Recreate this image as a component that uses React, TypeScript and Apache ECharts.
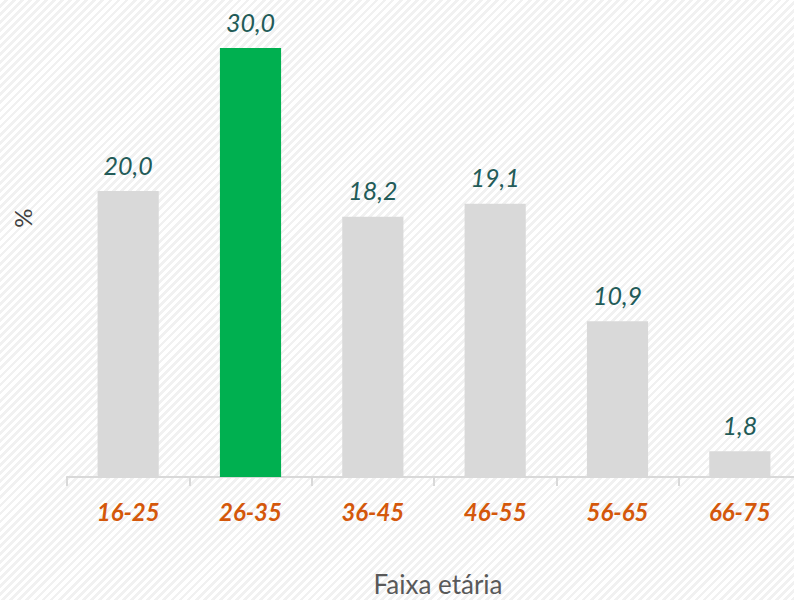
import React, { useEffect, useRef } from "react";
import * as echarts from "echarts";

const categories = ["16-25", "26-35", "36-45", "46-55", "56-65", "66-75"];
const values = [20.0, 30.0, 18.2, 19.1, 10.9, 1.8];
const highlightIndex = 1;
const xTitle = "Faixa etária";
const yTitle = "%";

const FONT = "Lato, 'Open Sans', sans-serif";

export default function App() {
  const ref = useRef<HTMLDivElement>(null);
  useEffect(() => {
    if (!ref.current) return;
    const chart = echarts.init(ref.current, undefined, { renderer: "svg" });
    chart.setOption({
      animation: false,
      grid: {
        left: 67,
        right: -7,
        top: 48,
        bottom: 123,
        containLabel: false,
        outerBoundsMode: "none",
      },
      xAxis: {
        type: "category",
        data: categories,
        axisLine: { lineStyle: { color: "#d9d9d9", width: 2 } },
        axisTick: { show: true, length: 9, lineStyle: { color: "#d9d9d9", width: 2 } },
        axisLabel: {
          color: "#d4580b",
          fontSize: 24,
          fontWeight: "bold",
          fontStyle: "italic",
          fontFamily: FONT,
          margin: 22,
        },
      },
      yAxis: {
        type: "value",
        min: 0,
        max: 30,
        axisLine: { show: false },
        axisTick: { show: false },
        axisLabel: { show: false },
        splitLine: { show: false },
      },
      graphic: [
        {
          type: "text",
          x: 438,
          y: 584,
          style: {
            text: xTitle,
            fill: "#595959",
            fontSize: 26,
            fontFamily: FONT,
            align: "center",
            verticalAlign: "middle",
          },
        },
        {
          type: "text",
          x: 22,
          y: 218,
          rotation: Math.PI / 2,
          style: {
            text: yTitle,
            fill: "#404040",
            fontSize: 24,
            fontFamily: FONT,
            align: "center",
            verticalAlign: "middle",
          },
        },
      ],
      series: [
        {
          type: "bar",
          barWidth: "50%",
          data: values.map((v, i) => ({
            value: v,
            itemStyle: { color: i === highlightIndex ? "#00b050" : "#d9d9d9" },
          })),
          label: {
            show: true,
            position: "top",
            distance: 14,
            formatter: (p: any) => p.value.toFixed(1).replace(".", ","),
            color: "#225b58",
            fontSize: 25,
            fontStyle: "italic",
            fontFamily: FONT,
          },
        },
      ],
    });
    return () => chart.dispose();
  }, []);
  return (
    <div
      ref={ref}
      style={{
        position: "fixed",
        left: 0,
        top: 0,
        width: 794,
        height: 600,
        background:
          "repeating-linear-gradient(135deg, #ffffff 0px, #ffffff 3px, #f1f1f1 3px, #f1f1f1 5.7px)",
      }}
    />
  );
}
